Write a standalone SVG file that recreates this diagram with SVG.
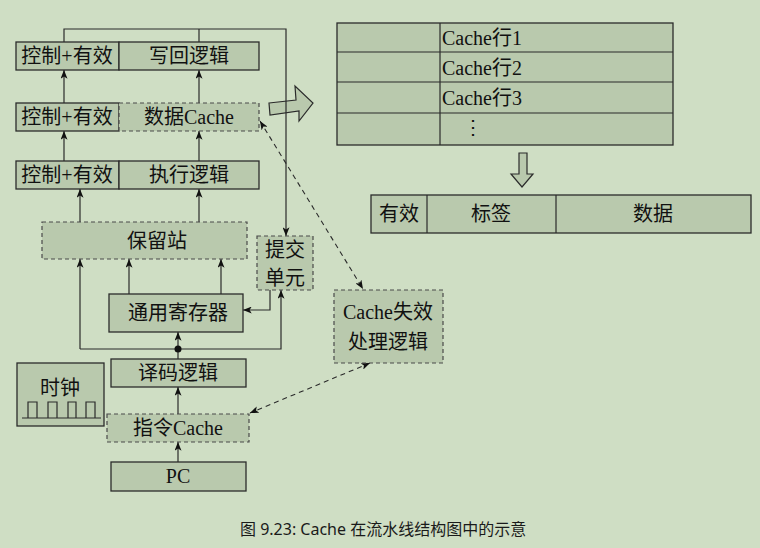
<svg xmlns="http://www.w3.org/2000/svg" width="760" height="548" viewBox="0 0 760 548">
<defs>
<style>
.bg{fill:#cfdec4}
.box{fill:#b9c9ad;stroke:#2b2b2b;stroke-width:1.3}
.dbox{fill:#b9c9ad;stroke:#4a4a4a;stroke-width:1.2;stroke-dasharray:4 3}
.t{font-family:"Liberation Serif","Noto Sans CJK SC",serif;font-size:20px;fill:#111;text-anchor:middle}
.tl{font-family:"Liberation Serif","Noto Sans CJK SC",serif;font-size:20px;fill:#111}
.cap{font-family:"Noto Sans","Noto Sans CJK SC",sans-serif;font-size:16px;fill:#1a1a1a}
.ln{fill:none;stroke:#2b2b2b;stroke-width:1.2}
.dl{fill:none;stroke:#2b2b2b;stroke-width:1.1;stroke-dasharray:5 4}
.big{fill:#b9c9ad;stroke:#2b2b2b;stroke-width:1.2}
</style>
<marker id="ah" viewBox="0 0 10 8" refX="10" refY="4" markerWidth="9" markerHeight="7" markerUnits="userSpaceOnUse" orient="auto-start-reverse">
<path d="M0,0 L10,4 L0,8 L2.5,4 z" fill="#111"/>
</marker>
</defs>
<rect class="bg" x="0" y="0" width="760" height="548"/>

<g id="bigarrow">
<polygon class="big" points="269,103 296,100 295,86 313,103 299,121 299,111 270,115"/>
</g>

<g id="connectors">
<path class="ln" d="M64,42 V29 H286 V236" marker-end="url(#ah)"/>
<path class="ln" d="M199,29 V42"/>
<path class="ln" d="M64,103 V70" marker-end="url(#ah)"/>
<path class="ln" d="M199,103 V70" marker-end="url(#ah)"/>
<path class="ln" d="M64,161 V131" marker-end="url(#ah)"/>
<path class="ln" d="M199,161 V131" marker-end="url(#ah)"/>
<path class="ln" d="M80,222 V189" marker-end="url(#ah)"/>
<path class="ln" d="M199,222 V189" marker-end="url(#ah)"/>
<path class="ln" d="M80,349 V259" marker-end="url(#ah)"/>
<path class="ln" d="M129,294 V259" marker-end="url(#ah)"/>
<path class="ln" d="M221,294 V259" marker-end="url(#ah)"/>
<path class="ln" d="M80,349 H281 V290" marker-end="url(#ah)"/>
<path class="ln" d="M178,349 V332" marker-end="url(#ah)"/>
<path class="ln" d="M178,359 V349"/>
<circle cx="178" cy="349" r="3.5" fill="#111"/>
<path class="ln" d="M178,414 V387" marker-end="url(#ah)"/>
<path class="ln" d="M178,462 V442" marker-end="url(#ah)"/>
<path class="ln" d="M270,290 V310 H243" marker-end="url(#ah)"/>
<path class="dl" d="M260,121 L363,289" marker-start="url(#ah)" marker-end="url(#ah)"/>
<path class="dl" d="M370,363 L250,413" marker-start="url(#ah)" marker-end="url(#ah)"/>
</g>

<g id="wb">
<rect class="box" x="16" y="42" width="103" height="28"/>
<rect class="box" x="119" y="42" width="140" height="28"/>
<text class="t" x="67" y="63">控制+有效</text>
<text class="t" x="189" y="63">写回逻辑</text>
</g>
<g id="mem">
<rect class="box" x="16" y="103" width="103" height="28"/>
<rect class="dbox" x="119" y="103" width="140" height="28"/>
<text class="t" x="67" y="124">控制+有效</text>
<text class="t" x="189" y="124">数据Cache</text>
</g>
<g id="ex">
<rect class="box" x="16" y="161" width="103" height="28"/>
<rect class="box" x="119" y="161" width="140" height="28"/>
<text class="t" x="67" y="182">控制+有效</text>
<text class="t" x="189" y="182">执行逻辑</text>
</g>
<g id="rs">
<rect class="dbox" x="42" y="222" width="205" height="37"/>
<text class="t" x="157" y="248">保留站</text>
</g>
<g id="commit">
<rect class="dbox" x="257" y="236" width="56" height="54"/>
<text class="t" x="285" y="257">提交</text>
<text class="t" x="285" y="285">单元</text>
</g>
<g id="regs">
<rect class="box" x="109" y="294" width="134" height="38"/>
<text class="t" x="178" y="320">通用寄存器</text>
</g>
<g id="decode">
<rect class="box" x="111" y="359" width="135" height="28"/>
<text class="t" x="178" y="380">译码逻辑</text>
</g>
<g id="icache">
<rect class="dbox" x="107" y="414" width="142" height="28"/>
<text class="t" x="178" y="435">指令Cache</text>
</g>
<g id="pc">
<rect class="box" x="111" y="462" width="135" height="29"/>
<text class="t" x="178" y="483">PC</text>
</g>
<g id="clock">
<rect class="box" x="17" y="363" width="87" height="63"/>
<text class="t" x="60" y="395">时钟</text>
<path class="ln" d="M22,418 H101 M28,418 V402 H37 V418 M48,418 V402 H57 V418 M68,418 V402 H76 V418 M86,418 V402 H95 V418"/>
</g>
<g id="miss">
<rect class="dbox" x="334" y="290" width="109" height="73"/>
<text class="t" x="388" y="319">Cache失效</text>
<text class="t" x="388" y="349">处理逻辑</text>
</g>
<g id="lines">
<rect class="box" x="337" y="23" width="336" height="122"/>
<path class="ln" d="M337,52 H673 M337,82 H673 M337,113 H673 M440,23 V145"/>
<text class="tl" x="442" y="45">Cache行1</text>
<text class="tl" x="442" y="75">Cache行2</text>
<text class="tl" x="442" y="105">Cache行3</text>
<text class="t" x="473" y="134">⋮</text>
</g>
<g id="downarrow">
<polygon class="big" points="519,153 527,153 527,174 533,174 522,187 511,174 519,174"/>
</g>
<g id="linefmt">
<rect class="box" x="371" y="195" width="380" height="38"/>
<path class="ln" d="M427,195 V233 M556,195 V233"/>
<text class="t" x="399" y="221">有效</text>
<text class="t" x="491" y="221">标签</text>
<text class="t" x="653" y="221">数据</text>
</g>
<text class="cap" x="240" y="535">图 9.23: Cache 在流水线结构图中的示意</text>
</svg>
